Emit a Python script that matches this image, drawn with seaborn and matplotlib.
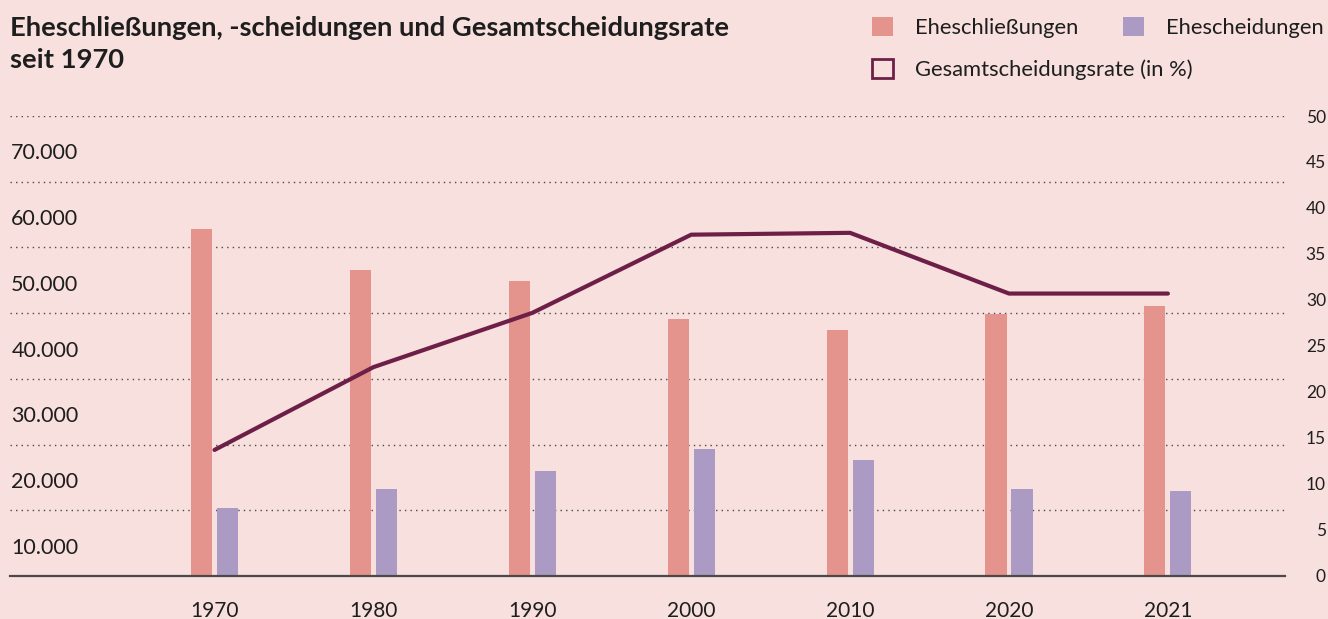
"""Eheschließungen, Ehescheidungen und Gesamtscheidungsrate seit 1970."""

import matplotlib

matplotlib.use("Agg")
import matplotlib.pyplot as plt
import matplotlib.transforms as mtransforms
from matplotlib.patches import Patch
import numpy as np
import pandas as pd
import seaborn as sns

years = ["1970", "1980", "1990", "2000", "2010", "2020", "2021"]
marriages = [52740, 46490, 44820, 39180, 37500, 39940, 41160]
divorces = [10370, 13260, 16010, 19360, 17680, 13260, 12960]
divorce_rate = [13.7, 22.7, 28.6, 37.1, 37.3, 30.7, 30.7]

left_ticks = [10000, 20000, 30000, 40000, 50000, 60000, 70000]
left_labels = ["10.000", "20.000", "30.000", "40.000", "50.000", "60.000", "70.000"]
right_ticks = [0, 5, 10, 15, 20, 25, 30, 35, 40, 45, 50]

BG = "#F7E0DD"
C_MAR = "#E4938D"
C_DIV = "#AB9AC4"
C_RATE = "#6E1F48"
INK = "#1E1E1E"
GRID = "#4A4A4A"

sns.set_theme(style="white", rc={"axes.facecolor": BG, "figure.facecolor": BG})
plt.rcParams["font.family"] = ["Lato", "DejaVu Sans"]

df = pd.DataFrame(
    {
        "Jahr": years * 2,
        "Anzahl": marriages + divorces,
        "Art": ["Eheschließungen"] * len(years) + ["Ehescheidungen"] * len(years),
    }
)

fig = plt.figure(figsize=(13.28, 6.19), dpi=100)
ax = fig.add_axes([0.00753, 0.0695, 0.9601, 0.7431])

sns.barplot(
    data=df, x="Jahr", y="Anzahl", hue="Art",
    palette=[C_MAR, C_DIV], width=0.327, gap=0.19, saturation=1,
    errorbar=None, legend=False, linewidth=0, ax=ax,
)
ax.set_ylim(0, 70000)
ax.set_yticks(left_ticks)
ax.tick_params(axis="y", length=0, labelleft=False)
ax.yaxis.grid(True, color=GRID, linestyle=(0, (1, 3)), linewidth=1)
ax.set_axisbelow(True)
for side in ["left", "right", "top"]:
    ax.spines[side].set_visible(False)
ax.spines["bottom"].set_color(GRID)
ax.spines["bottom"].set_linewidth(1.6)
ax.tick_params(axis="x", length=0, pad=18, labelsize=15, labelcolor=INK)
ax.set_xlabel("")
ax.set_ylabel("")

# left labels sit between the gridlines, below their own line
trans = mtransforms.blended_transform_factory(ax.transAxes, ax.transData)
for v, lab in zip(left_ticks, left_labels):
    ax.text(0.001, v - 5700, lab, transform=trans, ha="left", va="center",
            fontsize=15.5, color=INK)

ax2 = ax.twinx()
sns.lineplot(x=np.arange(len(years)), y=divorce_rate, color=C_RATE, linewidth=3,
             solid_capstyle="round", ax=ax2)
ax2.set_ylim(0, 50)
ax2.set_yticks(right_ticks)
ax2.tick_params(axis="y", length=0, pad=29.5, labelsize=12.5, labelcolor=INK)
for lab in ax2.get_yticklabels():
    lab.set_horizontalalignment("right")
ax2.grid(False)
for s in ax2.spines.values():
    s.set_visible(False)
ax2.set_ylabel("")
ax.set_xlim(-1.287, 6.737)

fig.text(10 / 1328, 1 - 16 / 619,
         "Eheschließungen, -scheidungen und Gesamtscheidungsrate\nseit 1970",
         ha="left", va="top", fontsize=19.7, fontweight="bold", color=INK,
         linespacing=1.38)

leg_kw = dict(
    frameon=False, fontsize=15.8, handlelength=0.96, handleheight=0.96,
    handletextpad=1.0, columnspacing=2.05, borderpad=0, borderaxespad=0,
    loc="upper left",
)
leg1 = fig.legend(
    handles=[
        Patch(facecolor=C_MAR, edgecolor="none", label="Eheschließungen"),
        Patch(facecolor=C_DIV, edgecolor="none", label="Ehescheidungen"),
    ],
    bbox_to_anchor=(872 / 1328, 1 - 17 / 619), ncol=2, **leg_kw,
)
leg2 = fig.legend(
    handles=[
        Patch(facecolor="none", edgecolor=C_RATE, linewidth=2,
              label="Gesamtscheidungsrate (in %)"),
    ],
    bbox_to_anchor=(872 / 1328, 1 - 59 / 619), ncol=1, **leg_kw,
)
for leg in (leg1, leg2):
    for t in leg.get_texts():
        t.set_color(INK)

fig.savefig("out.png", dpi=100, facecolor=BG)
